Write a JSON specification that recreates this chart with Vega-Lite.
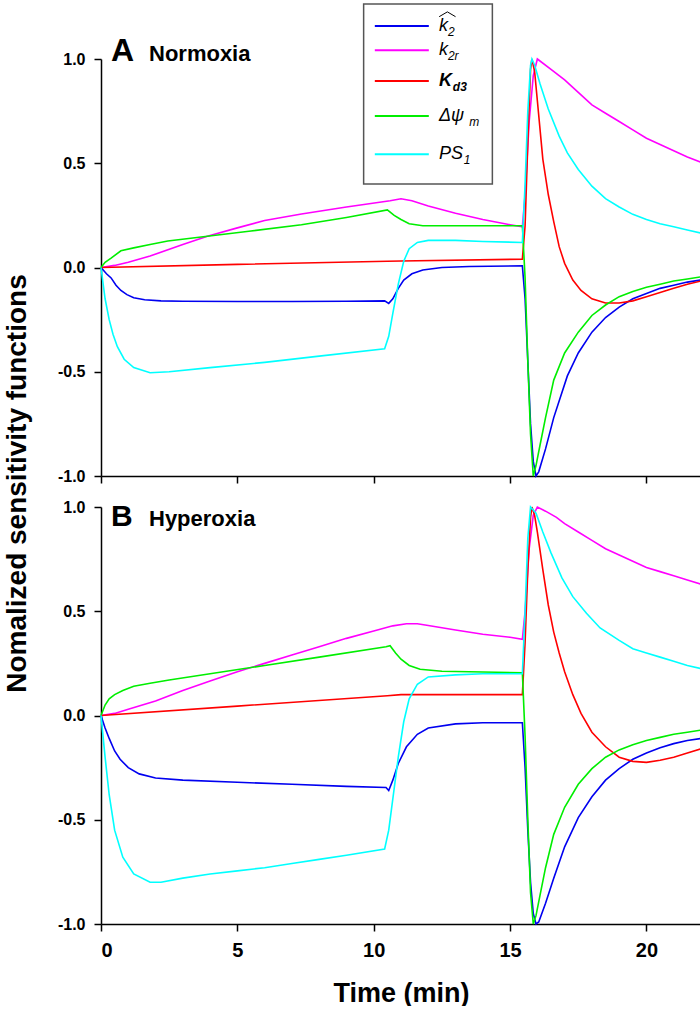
{
"$schema": "https://vega.github.io/schema/vega-lite/v6.json",
"padding": {"left": 3, "top": 3, "right": 0, "bottom": 0},
"background": "white",
"bounds": "flush",
"spacing": 31,
"config": {
  "font": "Liberation Sans",
  "view": {"stroke": null},
  "axis": {"grid": false, "domainColor": "black", "tickColor": "black", "domainWidth": 1.5, "tickWidth": 1.5, "tickSize": 7, "labelColor": "black", "labelFont": "Liberation Sans", "labelFontWeight": "bold", "titleFont": "Liberation Sans", "titleFontWeight": "bold", "titleColor": "black"}
},
"datasets": {
"legend": [
  {"series": "k2", "ly": 1.158, "lx1": 10.04, "lx2": 12.02, "tx": 12.39, "main": "k", "sx": 12.72, "sub": "2"},
  {"series": "k2r", "ly": 1.042, "lx1": 10.04, "lx2": 12.02, "tx": 12.39, "main": "k", "sx": 12.72, "sub": "2r"},
  {"series": "Kd3", "ly": 0.894, "lx1": 10.04, "lx2": 12.02, "tx": 12.39, "main": "K", "sx": 12.9, "sub": "d3"},
  {"series": "dpsi", "ly": 0.727, "lx1": 10.04, "lx2": 12.02, "tx": 12.39, "main": "Δψ", "sx": 13.5, "sub": "m"},
  {"series": "PS1", "ly": 0.543, "lx1": 10.04, "lx2": 12.02, "tx": 12.39, "main": "PS", "sx": 13.3, "sub": "1"}
],
"hat": [
  {"hx": 12.4, "hy": 1.203},
  {"hx": 12.7, "hy": 1.226},
  {"hx": 13.0, "hy": 1.203}
],
"curves": [
{"panel":"A","series":"k2","t":0,"v":0},{"panel":"A","series":"k2","t":0.2,"v":-0.03},{"panel":"A","series":"k2","t":0.37,"v":-0.05},{"panel":"A","series":"k2","t":0.55,"v":-0.085},{"panel":"A","series":"k2","t":0.73,"v":-0.11},{"panel":"A","series":"k2","t":0.95,"v":-0.13},{"panel":"A","series":"k2","t":1.2,"v":-0.145},{"panel":"A","series":"k2","t":1.6,"v":-0.155},{"panel":"A","series":"k2","t":2.2,"v":-0.16},{"panel":"A","series":"k2","t":3,"v":-0.162},{"panel":"A","series":"k2","t":5,"v":-0.163},{"panel":"A","series":"k2","t":7,"v":-0.163},{"panel":"A","series":"k2","t":9,"v":-0.162},{"panel":"A","series":"k2","t":10.4,"v":-0.16},{"panel":"A","series":"k2","t":10.55,"v":-0.172},{"panel":"A","series":"k2","t":10.7,"v":-0.15},{"panel":"A","series":"k2","t":10.9,"v":-0.1},{"panel":"A","series":"k2","t":11.1,"v":-0.06},{"panel":"A","series":"k2","t":11.4,"v":-0.03},{"panel":"A","series":"k2","t":11.8,"v":-0.012},{"panel":"A","series":"k2","t":12.5,"v":0},{"panel":"A","series":"k2","t":13.5,"v":0.005},{"panel":"A","series":"k2","t":15.45,"v":0.008},{"panel":"A","series":"k2","t":15.55,"v":-0.15},{"panel":"A","series":"k2","t":15.65,"v":-0.45},{"panel":"A","series":"k2","t":15.75,"v":-0.75},{"panel":"A","series":"k2","t":15.85,"v":-0.93},{"panel":"A","series":"k2","t":15.95,"v":-1.0},{"panel":"A","series":"k2","t":16.05,"v":-0.98},{"panel":"A","series":"k2","t":16.3,"v":-0.87},{"panel":"A","series":"k2","t":16.6,"v":-0.72},{"panel":"A","series":"k2","t":17.1,"v":-0.52},{"panel":"A","series":"k2","t":17.5,"v":-0.41},{"panel":"A","series":"k2","t":18,"v":-0.31},{"panel":"A","series":"k2","t":18.5,"v":-0.24},{"panel":"A","series":"k2","t":19,"v":-0.19},{"panel":"A","series":"k2","t":19.5,"v":-0.15},{"panel":"A","series":"k2","t":20,"v":-0.125},{"panel":"A","series":"k2","t":20.5,"v":-0.1},{"panel":"A","series":"k2","t":21,"v":-0.085},{"panel":"A","series":"k2","t":21.5,"v":-0.07},{"panel":"A","series":"k2","t":22,"v":-0.06},
{"panel":"A","series":"k2r","t":0,"v":0},{"panel":"A","series":"k2r","t":0.5,"v":0.01},{"panel":"A","series":"k2r","t":1,"v":0.025},{"panel":"A","series":"k2r","t":1.8,"v":0.055},{"panel":"A","series":"k2r","t":3,"v":0.11},{"panel":"A","series":"k2r","t":3.9,"v":0.15},{"panel":"A","series":"k2r","t":5,"v":0.19},{"panel":"A","series":"k2r","t":6,"v":0.225},{"panel":"A","series":"k2r","t":7.35,"v":0.257},{"panel":"A","series":"k2r","t":9,"v":0.29},{"panel":"A","series":"k2r","t":10.6,"v":0.32},{"panel":"A","series":"k2r","t":11,"v":0.33},{"panel":"A","series":"k2r","t":11.4,"v":0.32},{"panel":"A","series":"k2r","t":12,"v":0.295},{"panel":"A","series":"k2r","t":13,"v":0.26},{"panel":"A","series":"k2r","t":14,"v":0.23},{"panel":"A","series":"k2r","t":15,"v":0.205},{"panel":"A","series":"k2r","t":15.45,"v":0.195},{"panel":"A","series":"k2r","t":15.55,"v":0.35},{"panel":"A","series":"k2r","t":15.7,"v":0.7},{"panel":"A","series":"k2r","t":15.85,"v":0.92},{"panel":"A","series":"k2r","t":16,"v":1.0},{"panel":"A","series":"k2r","t":16.5,"v":0.95},{"panel":"A","series":"k2r","t":17,"v":0.9},{"panel":"A","series":"k2r","t":17.5,"v":0.84},{"panel":"A","series":"k2r","t":18,"v":0.78},{"panel":"A","series":"k2r","t":18.5,"v":0.74},{"panel":"A","series":"k2r","t":19,"v":0.7},{"panel":"A","series":"k2r","t":19.5,"v":0.66},{"panel":"A","series":"k2r","t":20,"v":0.62},{"panel":"A","series":"k2r","t":20.5,"v":0.59},{"panel":"A","series":"k2r","t":21,"v":0.56},{"panel":"A","series":"k2r","t":21.5,"v":0.53},{"panel":"A","series":"k2r","t":22,"v":0.505},
{"panel":"A","series":"Kd3","t":0,"v":0},{"panel":"A","series":"Kd3","t":5,"v":0.015},{"panel":"A","series":"Kd3","t":10.5,"v":0.03},{"panel":"A","series":"Kd3","t":11,"v":0.031},{"panel":"A","series":"Kd3","t":15.45,"v":0.04},{"panel":"A","series":"Kd3","t":15.55,"v":0.2},{"panel":"A","series":"Kd3","t":15.65,"v":0.6},{"panel":"A","series":"Kd3","t":15.75,"v":0.95},{"panel":"A","series":"Kd3","t":15.8,"v":1.0},{"panel":"A","series":"Kd3","t":15.9,"v":0.94},{"panel":"A","series":"Kd3","t":16,"v":0.8},{"panel":"A","series":"Kd3","t":16.2,"v":0.52},{"panel":"A","series":"Kd3","t":16.4,"v":0.35},{"panel":"A","series":"Kd3","t":16.6,"v":0.22},{"panel":"A","series":"Kd3","t":16.8,"v":0.1},{"panel":"A","series":"Kd3","t":17,"v":0.02},{"panel":"A","series":"Kd3","t":17.3,"v":-0.06},{"panel":"A","series":"Kd3","t":17.6,"v":-0.11},{"panel":"A","series":"Kd3","t":18,"v":-0.15},{"panel":"A","series":"Kd3","t":18.5,"v":-0.17},{"panel":"A","series":"Kd3","t":19,"v":-0.17},{"panel":"A","series":"Kd3","t":19.5,"v":-0.16},{"panel":"A","series":"Kd3","t":20,"v":-0.14},{"panel":"A","series":"Kd3","t":20.5,"v":-0.12},{"panel":"A","series":"Kd3","t":21,"v":-0.1},{"panel":"A","series":"Kd3","t":21.5,"v":-0.08},{"panel":"A","series":"Kd3","t":22,"v":-0.065},
{"panel":"A","series":"dpsi","t":0,"v":0},{"panel":"A","series":"dpsi","t":0.15,"v":0.025},{"panel":"A","series":"dpsi","t":0.37,"v":0.045},{"panel":"A","series":"dpsi","t":0.73,"v":0.08},{"panel":"A","series":"dpsi","t":1.2,"v":0.094},{"panel":"A","series":"dpsi","t":1.8,"v":0.11},{"panel":"A","series":"dpsi","t":2.45,"v":0.127},{"panel":"A","series":"dpsi","t":3.9,"v":0.15},{"panel":"A","series":"dpsi","t":5.5,"v":0.175},{"panel":"A","series":"dpsi","t":7.35,"v":0.205},{"panel":"A","series":"dpsi","t":9,"v":0.24},{"panel":"A","series":"dpsi","t":10.5,"v":0.276},{"panel":"A","series":"dpsi","t":10.75,"v":0.25},{"panel":"A","series":"dpsi","t":11,"v":0.23},{"panel":"A","series":"dpsi","t":11.3,"v":0.21},{"panel":"A","series":"dpsi","t":11.8,"v":0.2},{"panel":"A","series":"dpsi","t":13,"v":0.2},{"panel":"A","series":"dpsi","t":15.45,"v":0.2},{"panel":"A","series":"dpsi","t":15.55,"v":-0.05},{"panel":"A","series":"dpsi","t":15.65,"v":-0.45},{"panel":"A","series":"dpsi","t":15.75,"v":-0.8},{"panel":"A","series":"dpsi","t":15.85,"v":-1.0},{"panel":"A","series":"dpsi","t":15.95,"v":-0.95},{"panel":"A","series":"dpsi","t":16.1,"v":-0.85},{"panel":"A","series":"dpsi","t":16.3,"v":-0.72},{"panel":"A","series":"dpsi","t":16.6,"v":-0.54},{"panel":"A","series":"dpsi","t":17,"v":-0.41},{"panel":"A","series":"dpsi","t":17.5,"v":-0.31},{"panel":"A","series":"dpsi","t":18,"v":-0.23},{"panel":"A","series":"dpsi","t":18.5,"v":-0.18},{"panel":"A","series":"dpsi","t":19,"v":-0.14},{"panel":"A","series":"dpsi","t":19.5,"v":-0.115},{"panel":"A","series":"dpsi","t":20,"v":-0.095},{"panel":"A","series":"dpsi","t":20.5,"v":-0.08},{"panel":"A","series":"dpsi","t":21,"v":-0.065},{"panel":"A","series":"dpsi","t":21.5,"v":-0.055},{"panel":"A","series":"dpsi","t":22,"v":-0.045},
{"panel":"A","series":"PS1","t":0,"v":0},{"panel":"A","series":"PS1","t":0.15,"v":-0.15},{"panel":"A","series":"PS1","t":0.3,"v":-0.25},{"panel":"A","series":"PS1","t":0.44,"v":-0.32},{"panel":"A","series":"PS1","t":0.6,"v":-0.38},{"panel":"A","series":"PS1","t":0.85,"v":-0.44},{"panel":"A","series":"PS1","t":1.2,"v":-0.48},{"panel":"A","series":"PS1","t":1.8,"v":-0.505},{"panel":"A","series":"PS1","t":2.5,"v":-0.5},{"panel":"A","series":"PS1","t":4,"v":-0.48},{"panel":"A","series":"PS1","t":6,"v":-0.455},{"panel":"A","series":"PS1","t":8,"v":-0.425},{"panel":"A","series":"PS1","t":10.4,"v":-0.39},{"panel":"A","series":"PS1","t":10.55,"v":-0.33},{"panel":"A","series":"PS1","t":10.7,"v":-0.22},{"panel":"A","series":"PS1","t":10.9,"v":-0.08},{"panel":"A","series":"PS1","t":11.1,"v":0.03},{"panel":"A","series":"PS1","t":11.3,"v":0.09},{"panel":"A","series":"PS1","t":11.6,"v":0.12},{"panel":"A","series":"PS1","t":12,"v":0.13},{"panel":"A","series":"PS1","t":13,"v":0.13},{"panel":"A","series":"PS1","t":14,"v":0.125},{"panel":"A","series":"PS1","t":15.45,"v":0.12},{"panel":"A","series":"PS1","t":15.55,"v":0.4},{"panel":"A","series":"PS1","t":15.65,"v":0.75},{"panel":"A","series":"PS1","t":15.75,"v":0.97},{"panel":"A","series":"PS1","t":15.8,"v":1.0},{"panel":"A","series":"PS1","t":15.9,"v":0.97},{"panel":"A","series":"PS1","t":16.1,"v":0.88},{"panel":"A","series":"PS1","t":16.4,"v":0.76},{"panel":"A","series":"PS1","t":16.8,"v":0.63},{"panel":"A","series":"PS1","t":17.1,"v":0.55},{"panel":"A","series":"PS1","t":17.5,"v":0.47},{"panel":"A","series":"PS1","t":18,"v":0.39},{"panel":"A","series":"PS1","t":18.5,"v":0.33},{"panel":"A","series":"PS1","t":19,"v":0.29},{"panel":"A","series":"PS1","t":19.5,"v":0.255},{"panel":"A","series":"PS1","t":20,"v":0.23},{"panel":"A","series":"PS1","t":20.5,"v":0.21},{"panel":"A","series":"PS1","t":21,"v":0.195},{"panel":"A","series":"PS1","t":21.5,"v":0.18},{"panel":"A","series":"PS1","t":22,"v":0.165},
{"panel":"B","series":"k2","t":0,"v":0},{"panel":"B","series":"k2","t":0.15,"v":-0.06},{"panel":"B","series":"k2","t":0.3,"v":-0.11},{"panel":"B","series":"k2","t":0.5,"v":-0.17},{"panel":"B","series":"k2","t":0.7,"v":-0.21},{"panel":"B","series":"k2","t":1,"v":-0.25},{"panel":"B","series":"k2","t":1.4,"v":-0.28},{"panel":"B","series":"k2","t":2,"v":-0.3},{"panel":"B","series":"k2","t":3,"v":-0.31},{"panel":"B","series":"k2","t":5,"v":-0.32},{"panel":"B","series":"k2","t":7,"v":-0.33},{"panel":"B","series":"k2","t":9,"v":-0.34},{"panel":"B","series":"k2","t":10.45,"v":-0.345},{"panel":"B","series":"k2","t":10.55,"v":-0.36},{"panel":"B","series":"k2","t":10.7,"v":-0.31},{"panel":"B","series":"k2","t":10.9,"v":-0.23},{"panel":"B","series":"k2","t":11.2,"v":-0.15},{"panel":"B","series":"k2","t":11.6,"v":-0.09},{"panel":"B","series":"k2","t":12,"v":-0.06},{"panel":"B","series":"k2","t":13,"v":-0.04},{"panel":"B","series":"k2","t":14,"v":-0.035},{"panel":"B","series":"k2","t":15.45,"v":-0.035},{"panel":"B","series":"k2","t":15.55,"v":-0.25},{"panel":"B","series":"k2","t":15.65,"v":-0.55},{"panel":"B","series":"k2","t":15.75,"v":-0.8},{"panel":"B","series":"k2","t":15.85,"v":-0.95},{"panel":"B","series":"k2","t":15.95,"v":-1.0},{"panel":"B","series":"k2","t":16.05,"v":-0.99},{"panel":"B","series":"k2","t":16.3,"v":-0.9},{"panel":"B","series":"k2","t":16.6,"v":-0.78},{"panel":"B","series":"k2","t":17,"v":-0.63},{"panel":"B","series":"k2","t":17.5,"v":-0.49},{"panel":"B","series":"k2","t":18,"v":-0.39},{"panel":"B","series":"k2","t":18.5,"v":-0.31},{"panel":"B","series":"k2","t":19,"v":-0.255},{"panel":"B","series":"k2","t":19.5,"v":-0.21},{"panel":"B","series":"k2","t":20,"v":-0.18},{"panel":"B","series":"k2","t":20.5,"v":-0.155},{"panel":"B","series":"k2","t":21,"v":-0.135},{"panel":"B","series":"k2","t":21.5,"v":-0.12},{"panel":"B","series":"k2","t":22,"v":-0.11},
{"panel":"B","series":"k2r","t":0,"v":0},{"panel":"B","series":"k2r","t":0.5,"v":0.01},{"panel":"B","series":"k2r","t":1,"v":0.03},{"panel":"B","series":"k2r","t":2,"v":0.07},{"panel":"B","series":"k2r","t":3,"v":0.12},{"panel":"B","series":"k2r","t":4,"v":0.165},{"panel":"B","series":"k2r","t":5,"v":0.21},{"panel":"B","series":"k2r","t":6,"v":0.25},{"panel":"B","series":"k2r","t":7,"v":0.29},{"panel":"B","series":"k2r","t":8,"v":0.33},{"panel":"B","series":"k2r","t":9,"v":0.37},{"panel":"B","series":"k2r","t":10,"v":0.405},{"panel":"B","series":"k2r","t":10.7,"v":0.43},{"panel":"B","series":"k2r","t":11.2,"v":0.44},{"panel":"B","series":"k2r","t":11.6,"v":0.44},{"panel":"B","series":"k2r","t":12,"v":0.432},{"panel":"B","series":"k2r","t":13,"v":0.41},{"panel":"B","series":"k2r","t":14,"v":0.39},{"panel":"B","series":"k2r","t":15,"v":0.375},{"panel":"B","series":"k2r","t":15.45,"v":0.365},{"panel":"B","series":"k2r","t":15.55,"v":0.5},{"panel":"B","series":"k2r","t":15.7,"v":0.8},{"panel":"B","series":"k2r","t":15.85,"v":0.96},{"panel":"B","series":"k2r","t":16,"v":1.0},{"panel":"B","series":"k2r","t":16.3,"v":0.98},{"panel":"B","series":"k2r","t":16.7,"v":0.95},{"panel":"B","series":"k2r","t":17,"v":0.92},{"panel":"B","series":"k2r","t":17.5,"v":0.88},{"panel":"B","series":"k2r","t":18,"v":0.84},{"panel":"B","series":"k2r","t":18.5,"v":0.8},{"panel":"B","series":"k2r","t":19,"v":0.77},{"panel":"B","series":"k2r","t":19.5,"v":0.74},{"panel":"B","series":"k2r","t":20,"v":0.71},{"panel":"B","series":"k2r","t":20.5,"v":0.69},{"panel":"B","series":"k2r","t":21,"v":0.67},{"panel":"B","series":"k2r","t":21.5,"v":0.65},{"panel":"B","series":"k2r","t":22,"v":0.63},
{"panel":"B","series":"Kd3","t":0,"v":0},{"panel":"B","series":"Kd3","t":5,"v":0.045},{"panel":"B","series":"Kd3","t":10.5,"v":0.095},{"panel":"B","series":"Kd3","t":11,"v":0.1},{"panel":"B","series":"Kd3","t":15.45,"v":0.1},{"panel":"B","series":"Kd3","t":15.55,"v":0.35},{"panel":"B","series":"Kd3","t":15.65,"v":0.7},{"panel":"B","series":"Kd3","t":15.75,"v":0.95},{"panel":"B","series":"Kd3","t":15.8,"v":1.0},{"panel":"B","series":"Kd3","t":15.9,"v":0.96},{"panel":"B","series":"Kd3","t":16,"v":0.88},{"panel":"B","series":"Kd3","t":16.2,"v":0.7},{"panel":"B","series":"Kd3","t":16.4,"v":0.53},{"panel":"B","series":"Kd3","t":16.6,"v":0.4},{"panel":"B","series":"Kd3","t":16.8,"v":0.3},{"panel":"B","series":"Kd3","t":17,"v":0.21},{"panel":"B","series":"Kd3","t":17.3,"v":0.1},{"panel":"B","series":"Kd3","t":17.6,"v":0.01},{"panel":"B","series":"Kd3","t":18,"v":-0.08},{"panel":"B","series":"Kd3","t":18.5,"v":-0.15},{"panel":"B","series":"Kd3","t":19,"v":-0.2},{"panel":"B","series":"Kd3","t":19.5,"v":-0.22},{"panel":"B","series":"Kd3","t":20,"v":-0.225},{"panel":"B","series":"Kd3","t":20.5,"v":-0.215},{"panel":"B","series":"Kd3","t":21,"v":-0.2},{"panel":"B","series":"Kd3","t":21.5,"v":-0.18},{"panel":"B","series":"Kd3","t":22,"v":-0.16},
{"panel":"B","series":"dpsi","t":0,"v":0},{"panel":"B","series":"dpsi","t":0.15,"v":0.05},{"panel":"B","series":"dpsi","t":0.3,"v":0.08},{"panel":"B","series":"dpsi","t":0.5,"v":0.1},{"panel":"B","series":"dpsi","t":0.8,"v":0.12},{"panel":"B","series":"dpsi","t":1.2,"v":0.14},{"panel":"B","series":"dpsi","t":1.8,"v":0.155},{"panel":"B","series":"dpsi","t":2.5,"v":0.17},{"panel":"B","series":"dpsi","t":4,"v":0.2},{"panel":"B","series":"dpsi","t":6,"v":0.24},{"panel":"B","series":"dpsi","t":8,"v":0.28},{"panel":"B","series":"dpsi","t":10.45,"v":0.33},{"panel":"B","series":"dpsi","t":10.6,"v":0.335},{"panel":"B","series":"dpsi","t":10.8,"v":0.3},{"panel":"B","series":"dpsi","t":11,"v":0.27},{"panel":"B","series":"dpsi","t":11.3,"v":0.24},{"panel":"B","series":"dpsi","t":11.7,"v":0.222},{"panel":"B","series":"dpsi","t":12.5,"v":0.212},{"panel":"B","series":"dpsi","t":15.45,"v":0.205},{"panel":"B","series":"dpsi","t":15.55,"v":-0.1},{"panel":"B","series":"dpsi","t":15.65,"v":-0.5},{"panel":"B","series":"dpsi","t":15.75,"v":-0.85},{"panel":"B","series":"dpsi","t":15.85,"v":-1.0},{"panel":"B","series":"dpsi","t":15.95,"v":-0.96},{"panel":"B","series":"dpsi","t":16.1,"v":-0.86},{"panel":"B","series":"dpsi","t":16.3,"v":-0.73},{"panel":"B","series":"dpsi","t":16.6,"v":-0.57},{"panel":"B","series":"dpsi","t":17,"v":-0.44},{"panel":"B","series":"dpsi","t":17.5,"v":-0.33},{"panel":"B","series":"dpsi","t":18,"v":-0.255},{"panel":"B","series":"dpsi","t":18.5,"v":-0.2},{"panel":"B","series":"dpsi","t":19,"v":-0.165},{"panel":"B","series":"dpsi","t":19.5,"v":-0.14},{"panel":"B","series":"dpsi","t":20,"v":-0.12},{"panel":"B","series":"dpsi","t":20.5,"v":-0.105},{"panel":"B","series":"dpsi","t":21,"v":-0.09},{"panel":"B","series":"dpsi","t":21.5,"v":-0.08},{"panel":"B","series":"dpsi","t":22,"v":-0.07},
{"panel":"B","series":"PS1","t":0,"v":0},{"panel":"B","series":"PS1","t":0.15,"v":-0.2},{"panel":"B","series":"PS1","t":0.3,"v":-0.38},{"panel":"B","series":"PS1","t":0.5,"v":-0.55},{"panel":"B","series":"PS1","t":0.8,"v":-0.68},{"panel":"B","series":"PS1","t":1.2,"v":-0.76},{"panel":"B","series":"PS1","t":1.8,"v":-0.8},{"panel":"B","series":"PS1","t":2.2,"v":-0.8},{"panel":"B","series":"PS1","t":3,"v":-0.78},{"panel":"B","series":"PS1","t":4,"v":-0.76},{"panel":"B","series":"PS1","t":5,"v":-0.745},{"panel":"B","series":"PS1","t":6,"v":-0.73},{"panel":"B","series":"PS1","t":7,"v":-0.71},{"panel":"B","series":"PS1","t":8,"v":-0.69},{"panel":"B","series":"PS1","t":9,"v":-0.67},{"panel":"B","series":"PS1","t":10.4,"v":-0.64},{"panel":"B","series":"PS1","t":10.55,"v":-0.55},{"panel":"B","series":"PS1","t":10.7,"v":-0.4},{"panel":"B","series":"PS1","t":10.9,"v":-0.2},{"panel":"B","series":"PS1","t":11.1,"v":-0.03},{"panel":"B","series":"PS1","t":11.3,"v":0.08},{"panel":"B","series":"PS1","t":11.6,"v":0.15},{"panel":"B","series":"PS1","t":12,"v":0.185},{"panel":"B","series":"PS1","t":13,"v":0.195},{"panel":"B","series":"PS1","t":14,"v":0.2},{"panel":"B","series":"PS1","t":15.45,"v":0.2},{"panel":"B","series":"PS1","t":15.55,"v":0.5},{"panel":"B","series":"PS1","t":15.65,"v":0.85},{"panel":"B","series":"PS1","t":15.75,"v":1.0},{"panel":"B","series":"PS1","t":15.95,"v":0.97},{"panel":"B","series":"PS1","t":16.2,"v":0.88},{"panel":"B","series":"PS1","t":16.5,"v":0.78},{"panel":"B","series":"PS1","t":16.9,"v":0.66},{"panel":"B","series":"PS1","t":17.3,"v":0.57},{"panel":"B","series":"PS1","t":17.8,"v":0.49},{"panel":"B","series":"PS1","t":18.3,"v":0.42},{"panel":"B","series":"PS1","t":19,"v":0.36},{"panel":"B","series":"PS1","t":19.5,"v":0.32},{"panel":"B","series":"PS1","t":20,"v":0.3},{"panel":"B","series":"PS1","t":20.5,"v":0.28},{"panel":"B","series":"PS1","t":21,"v":0.26},{"panel":"B","series":"PS1","t":21.5,"v":0.24},{"panel":"B","series":"PS1","t":22,"v":0.225}
]
},
"vconcat": [
{
  "width": 600, "height": 417,
  "layer": [
    {
      "data": {"name": "curves"},
      "transform": [{"filter": "datum.panel === 'A'"}],
      "mark": {"type": "line", "strokeWidth": 1.6},
      "encoding": {
        "x": {"field": "t", "type": "quantitative", "scale": {"domain": [0, 22], "nice": false, "zero": false}, "axis": {"values": [0, 5, 10, 15, 20], "labels": false, "title": null}},
        "y": {"field": "v", "type": "quantitative", "scale": {"domain": [-1, 1], "nice": false}, "axis": {"values": [-1, -0.5, 0, 0.5, 1], "labelExpr": "datum.value < 0 ? '-' + format(-datum.value, '.1f') : format(datum.value, '.1f')", "labelFontSize": 16, "labelPadding": 9, "title": "Nomalized sensitivity functions", "titleFontSize": 28, "titleAngle": 270, "titleX": -84, "titleY": 424, "titleAlign": "center", "titleBaseline": "middle"}},
        "color": {"field": "series", "type": "nominal", "scale": {"domain": ["k2", "k2r", "Kd3", "dpsi", "PS1"], "range": ["#0000f0", "#ff00ff", "#ff0000", "#00ee00", "#00ffff"]}, "legend": null}
      }
    },
    {
      "data": {"values": [{"bx1": 9.63, "bx2": 14.35, "by1": 1.264, "by2": 0.40}]},
      "mark": {"type": "rect", "fill": "white", "stroke": "#555555", "strokeWidth": 1.5},
      "encoding": {"x": {"field": "bx1", "type": "quantitative"}, "x2": {"field": "bx2"}, "y": {"field": "by1", "type": "quantitative"}, "y2": {"field": "by2"}}
    },
    {
      "data": {"name": "legend"},
      "mark": {"type": "rule", "strokeWidth": 2},
      "encoding": {"x": {"field": "lx1", "type": "quantitative"}, "x2": {"field": "lx2"}, "y": {"field": "ly", "type": "quantitative"}, "color": {"field": "series", "type": "nominal", "legend": null}}
    },
    {
      "data": {"name": "hat"},
      "mark": {"type": "line", "stroke": "black", "strokeWidth": 1},
      "encoding": {"x": {"field": "hx", "type": "quantitative"}, "y": {"field": "hy", "type": "quantitative"}}
    },
    {
      "data": {"name": "legend"},
      "transform": [{"filter": "datum.series !== 'Kd3'"}],
      "mark": {"type": "text", "align": "left", "baseline": "alphabetic", "dy": 5, "fontSize": 18, "fontStyle": "italic", "color": "black"},
      "encoding": {"x": {"field": "tx", "type": "quantitative"}, "y": {"field": "ly", "type": "quantitative"}, "text": {"field": "main"}}
    },
    {
      "data": {"name": "legend"},
      "transform": [{"filter": "datum.series === 'Kd3'"}],
      "mark": {"type": "text", "align": "left", "baseline": "alphabetic", "dy": 5, "fontSize": 18, "fontStyle": "italic", "fontWeight": "bold", "color": "black"},
      "encoding": {"x": {"field": "tx", "type": "quantitative"}, "y": {"field": "ly", "type": "quantitative"}, "text": {"field": "main"}}
    },
    {
      "data": {"name": "legend"},
      "transform": [{"filter": "datum.series !== 'Kd3'"}],
      "mark": {"type": "text", "align": "left", "baseline": "alphabetic", "dy": 10, "fontSize": 12, "fontStyle": "italic", "color": "black"},
      "encoding": {"x": {"field": "sx", "type": "quantitative"}, "y": {"field": "ly", "type": "quantitative"}, "text": {"field": "sub"}}
    },
    {
      "data": {"name": "legend"},
      "transform": [{"filter": "datum.series === 'Kd3'"}],
      "mark": {"type": "text", "align": "left", "baseline": "alphabetic", "dy": 10, "fontSize": 12, "fontStyle": "italic", "fontWeight": "bold", "color": "black"},
      "encoding": {"x": {"field": "sx", "type": "quantitative"}, "y": {"field": "ly", "type": "quantitative"}, "text": {"field": "sub"}}
    },
    {
      "data": {"values": [{"px": 0.37, "py": 0.99, "letter": "A"}]},
      "mark": {"type": "text", "align": "left", "baseline": "alphabetic", "fontSize": 32, "fontWeight": "bold", "color": "black"},
      "encoding": {"x": {"field": "px", "type": "quantitative"}, "y": {"field": "py", "type": "quantitative"}, "text": {"field": "letter"}}
    },
    {
      "data": {"values": [{"px": 1.76, "py": 0.99, "name": "Normoxia"}]},
      "mark": {"type": "text", "align": "left", "baseline": "alphabetic", "fontSize": 22, "fontWeight": "bold", "color": "black"},
      "encoding": {"x": {"field": "px", "type": "quantitative"}, "y": {"field": "py", "type": "quantitative"}, "text": {"field": "name"}}
    }
  ]
},
{
  "width": 600, "height": 417,
  "layer": [
    {
      "data": {"name": "curves"},
      "transform": [{"filter": "datum.panel === 'B'"}],
      "mark": {"type": "line", "strokeWidth": 1.6},
      "encoding": {
        "x": {"field": "t", "type": "quantitative", "scale": {"domain": [0, 22], "nice": false, "zero": false}, "axis": {"values": [0, 5, 10, 15, 20], "labelFontSize": 20, "labelPadding": 9, "title": "Time (min)", "titleFontSize": 27, "titlePadding": 20}},
        "y": {"field": "v", "type": "quantitative", "scale": {"domain": [-1, 1], "nice": false}, "axis": {"values": [-1, -0.5, 0, 0.5, 1], "labelExpr": "datum.value < 0 ? '-' + format(-datum.value, '.1f') : format(datum.value, '.1f')", "labelFontSize": 16, "labelPadding": 9, "title": null}},
        "color": {"field": "series", "type": "nominal", "scale": {"domain": ["k2", "k2r", "Kd3", "dpsi", "PS1"], "range": ["#0000f0", "#ff00ff", "#ff0000", "#00ee00", "#00ffff"]}, "legend": null}
      }
    },
    {
      "data": {"values": [{"px": 0.37, "py": 0.909, "letter": "B"}]},
      "mark": {"type": "text", "align": "left", "baseline": "alphabetic", "fontSize": 30, "fontWeight": "bold", "color": "black"},
      "encoding": {"x": {"field": "px", "type": "quantitative"}, "y": {"field": "py", "type": "quantitative"}, "text": {"field": "letter"}}
    },
    {
      "data": {"values": [{"px": 1.76, "py": 0.909, "name": "Hyperoxia"}]},
      "mark": {"type": "text", "align": "left", "baseline": "alphabetic", "fontSize": 22, "fontWeight": "bold", "color": "black"},
      "encoding": {"x": {"field": "px", "type": "quantitative"}, "y": {"field": "py", "type": "quantitative"}, "text": {"field": "name"}}
    }
  ]
}
]
}
